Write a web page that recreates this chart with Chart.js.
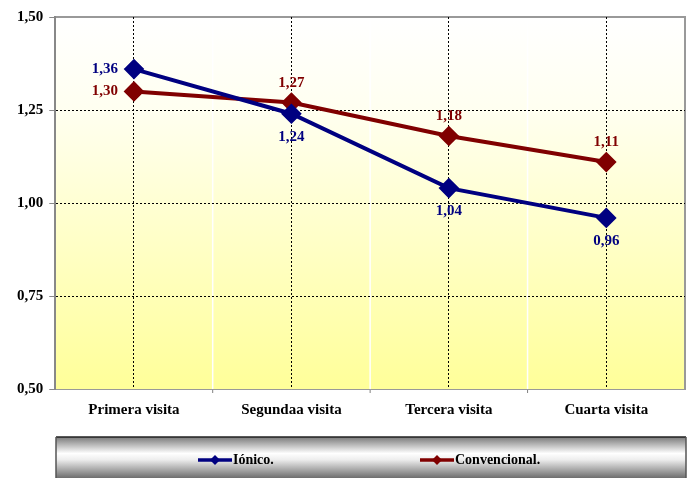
<!DOCTYPE html>
<html>
<head>
<meta charset="utf-8">
<script src="https://cdn.jsdelivr.net/npm/chart.js@4"></script>
<style>
  html, body { margin: 0; padding: 0; background: #fff; }
  #wrap { width: 692px; height: 478px; }
</style>
</head>
<body>
<div id="wrap"><canvas id="myChart" width="692" height="478"></canvas></div>
<script>
const categories = ['Primera visita', 'Segundaa visita', 'Tercera visita', 'Cuarta visita'];
const ionico = [1.36, 1.24, 1.04, 0.96];
const convencional = [1.30, 1.27, 1.18, 1.11];
const yTicks = [0.50, 0.75, 1.00, 1.25, 1.50];

const blue = '#000080';
const red = '#800000';
const font = 'Liberation Serif';

const fmt = v => v.toFixed(2).replace('.', ',');

// background gradient + white separators between categories
const plotBg = {
  id: 'plotBg',
  beforeDraw(chart) {
    const { ctx, chartArea: a, scales } = chart;
    ctx.save();
    const g = ctx.createLinearGradient(0, a.top, 0, a.bottom);
    g.addColorStop(0, '#ffffff');
    g.addColorStop(0.25, '#fffff0');
    g.addColorStop(1, '#ffff99');
    ctx.fillStyle = g;
    ctx.fillRect(a.left, a.top, a.right - a.left, a.bottom - a.top);
    for (let i = 1; i < categories.length; i++) {
      const x = (scales.x.getPixelForValue(i - 1) + scales.x.getPixelForValue(i)) / 2;
      ctx.strokeStyle = '#ffffff';
      ctx.lineWidth = 1.5;
      ctx.beginPath();
      ctx.moveTo(x, a.top);
      ctx.lineTo(x, a.bottom);
      ctx.stroke();
      ctx.strokeStyle = '#808080';
      ctx.lineWidth = 1;
      ctx.beginPath();
      ctx.moveTo(x, a.bottom);
      ctx.lineTo(x, a.bottom + 4);
      ctx.stroke();
    }
    // grey frame on top and right
    ctx.strokeStyle = '#999';
    ctx.lineWidth = 2;
    ctx.beginPath();
    ctx.moveTo(a.left, a.top);
    ctx.lineTo(a.right, a.top);
    ctx.lineTo(a.right, a.bottom);
    ctx.stroke();
    ctx.restore();
  }
};

// value labels: where each one goes relative to its point
const labelPos = [
  ['left', 'below', 'below', 'below'],
  ['left', 'above', 'above', 'above']
];
const valueLabels = {
  id: 'valueLabels',
  afterDatasetsDraw(chart) {
    const { ctx } = chart;
    ctx.save();
    ctx.font = 'bold 15px "' + font + '"';
    chart.data.datasets.forEach((ds, di) => {
      const meta = chart.getDatasetMeta(di);
      ctx.fillStyle = ds.borderColor;
      meta.data.forEach((pt, i) => {
        const txt = fmt(ds.data[i]);
        const pos = labelPos[di][i];
        if (pos === 'left') {
          ctx.textAlign = 'right';
          ctx.textBaseline = 'middle';
          ctx.fillText(txt, pt.x - 16, pt.y);
        } else if (pos === 'above') {
          ctx.textAlign = 'center';
          ctx.textBaseline = 'bottom';
          ctx.fillText(txt, pt.x, pt.y - 12);
        } else {
          ctx.textAlign = 'center';
          ctx.textBaseline = 'top';
          ctx.fillText(txt, pt.x, pt.y + 16);
        }
      });
    });
    ctx.restore();
  }
};

// legend drawn in a grey metallic box
const legendBox = {
  id: 'legendBox',
  afterDraw(chart) {
    const { ctx } = chart;
    const x0 = 56, y0 = 437, w = 630, h = 41;
    ctx.save();
    const g = ctx.createLinearGradient(0, y0, 0, y0 + h);
    g.addColorStop(0, '#7a7a7a');
    g.addColorStop(0.4, '#ffffff');
    g.addColorStop(0.55, '#eeeeee');
    g.addColorStop(1, '#6e6e6e');
    ctx.fillStyle = g;
    ctx.fillRect(x0, y0, w, h);
    ctx.strokeStyle = '#222';
    ctx.lineWidth = 1.5;
    ctx.beginPath();
    ctx.moveTo(x0, y0);
    ctx.lineTo(x0 + w, y0);
    ctx.stroke();
    ctx.strokeStyle = '#555';
    ctx.lineWidth = 1.5;
    ctx.beginPath();
    ctx.moveTo(x0, y0);
    ctx.lineTo(x0, y0 + h);
    ctx.moveTo(x0 + w, y0);
    ctx.lineTo(x0 + w, y0 + h);
    ctx.stroke();

    const items = [[198, chart.data.datasets[0]], [420, chart.data.datasets[1]]];
    const cy = 460;
    ctx.font = 'bold 14px "' + font + '"';
    ctx.textBaseline = 'middle';
    ctx.textAlign = 'left';
    items.forEach(([lx, ds]) => {
      ctx.strokeStyle = ds.borderColor;
      ctx.lineWidth = 3.5;
      ctx.beginPath();
      ctx.moveTo(lx, cy);
      ctx.lineTo(lx + 34, cy);
      ctx.stroke();
      ctx.fillStyle = ds.borderColor;
      ctx.beginPath();
      ctx.moveTo(lx + 17, cy - 5);
      ctx.lineTo(lx + 22, cy);
      ctx.lineTo(lx + 17, cy + 5);
      ctx.lineTo(lx + 12, cy);
      ctx.closePath();
      ctx.fill();
      ctx.fillStyle = '#000';
      ctx.fillText(ds.label, lx + 35, cy);
    });
    ctx.restore();
  }
};

new Chart(document.getElementById('myChart'), {
  type: 'line',
  data: {
    labels: categories,
    datasets: [{
      label: 'Iónico.',
      data: ionico,
      borderColor: blue,
      backgroundColor: blue,
      borderWidth: 4,
      pointStyle: 'rectRot',
      pointRadius: 7.5,
      pointHoverRadius: 7.5,
      tension: 0
    }, {
      label: 'Convencional.',
      data: convencional,
      borderColor: red,
      backgroundColor: red,
      borderWidth: 4,
      pointStyle: 'rectRot',
      pointRadius: 7.5,
      pointHoverRadius: 7.5,
      tension: 0
    }]
  },
  options: {
    responsive: false,
    animation: false,
    layout: { autoPadding: false, padding: { top: 17, right: 7, left: 11, bottom: 47 } },
    plugins: {
      legend: { display: false },
      tooltip: { enabled: false }
    },
    scales: {
      x: {
        offset: true,
        afterFit: s => { s.paddingLeft = 0; s.paddingRight = 0; },
        grid: {
          offset: false,
          color: '#000',
          drawTicks: false
        },
        border: { color: '#999', width: 1, dash: [2, 2] },
        ticks: {
          padding: 12,
          color: '#000',
          font: { family: font, size: 15, weight: 'bold' }
        }
      },
      y: {
        min: 0.5,
        max: 1.5,
        afterBuildTicks: axis => { axis.ticks = yTicks.map(v => ({ value: v })); },
        afterFit: s => { s.paddingTop = 0; s.paddingBottom = 0; },
        grid: {
          color: ctx => (ctx.tick && (ctx.tick.value === 0.5 || ctx.tick.value === 1.5)) ? 'rgba(0,0,0,0)' : '#000',
          tickColor: '#888',
          tickLength: 6,
          tickBorderDash: []
        },
        border: { color: '#888', width: 2, dash: [2, 2] },
        ticks: {
          padding: 6,
          color: '#000',
          callback: v => fmt(v),
          font: { family: font, size: 15, weight: 'bold' }
        }
      }
    }
  },
  plugins: [plotBg, valueLabels, legendBox]
});
</script>
</body>
</html>
